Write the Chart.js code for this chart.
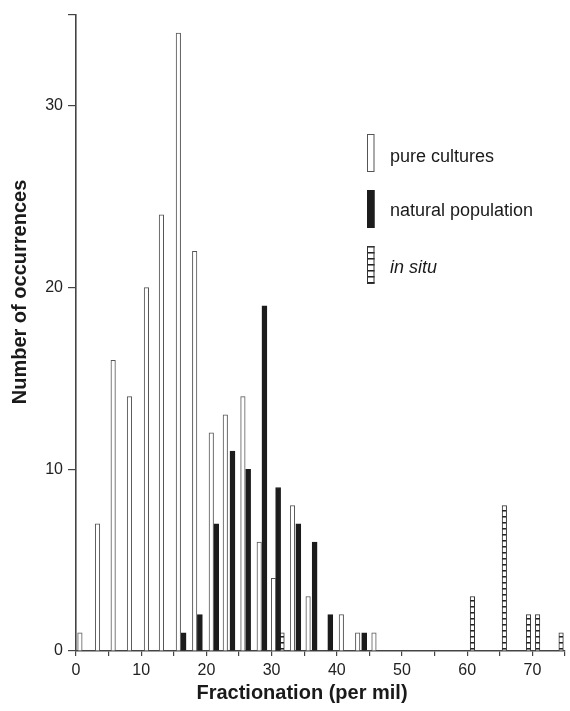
<!DOCTYPE html>
<html>
<head>
<meta charset="utf-8">
<script src="https://cdn.jsdelivr.net/npm/chart.js@4/dist/chart.umd.min.js"></script>
<style>
  html, body { margin: 0; padding: 0; background: #fff; }
  #wrap { width: 570px; height: 711px; position: relative; }
</style>
</head>
<body>
<div id="wrap"><canvas id="c" width="570" height="711"></canvas></div>
<script>
// ---- data ----
const pureX = [0.6, 3.3, 5.7, 8.2, 10.8, 13.1, 15.7, 18.2, 20.75, 22.9, 25.6, 28.1, 30.3, 33.2, 35.6, 40.7, 43.2, 45.7];
const pureY = [1, 7, 16, 14, 20, 24, 34, 22, 12, 13, 14, 6, 4, 8, 3, 2, 1, 1];
const naturalX = [16.5, 19.0, 21.5, 24.0, 26.4, 28.9, 31.0, 34.1, 36.6, 39.0, 44.2];
const naturalY = [1, 2, 7, 11, 10, 19, 9, 7, 6, 2, 1];
const inSituX = [31.6, 60.8, 65.7, 69.4, 70.8, 74.4];
const inSituY = [1, 3, 8, 2, 2, 1];
const seriesNames = ['pure cultures', 'natural population', 'in situ'];
const xTickValues = [0, 5, 10, 15, 20, 25, 30, 35, 40, 45, 50, 55, 60, 65, 70, 75];
const xTickLabels = ['0', '', '10', '', '20', '', '30', '', '40', '', '50', '', '60', '', '70', ''];
const yTickValues = [0, 10, 20, 30, 35];
const yTickLabels = ['0', '10', '20', '30', ''];
const xTitle = 'Fractionation (per mil)';
const yTitle = 'Number of occurrences';

const FONT = "'Liberation Sans', Arial, Helvetica, sans-serif";

// hatch pattern for "in situ"
const pc = document.createElement('canvas');
pc.width = 4; pc.height = 6;
const pctx = pc.getContext('2d');
pctx.fillStyle = '#ffffff'; pctx.fillRect(0, 0, 4, 6);
pctx.fillStyle = '#222222'; pctx.fillRect(0, 0, 4, 1);
pctx.fillStyle = '#888888'; pctx.fillRect(0, 1, 4, 1);
const hatch = document.getElementById('c').getContext('2d').createPattern(pc, 'repeat');

const styles = [
  { bg: '#ffffff', border: '#555555', thick: 4.5 },
  { bg: '#1c1c1c', border: '#1c1c1c', thick: 5 },
  { bg: hatch, border: '#333333', thick: 4.5 }
];

function pts(xs, ys) { return xs.map((x, i) => ({ x: x, y: ys[i] })); }

const titlesPlugin = {
  id: 'titles',
  afterDraw(chart) {
    const ctx = chart.ctx;
    ctx.save();
    ctx.fillStyle = '#1a1a1a';
    ctx.font = 'bold 20px ' + FONT;
    ctx.textAlign = 'center';
    ctx.textBaseline = 'middle';
    ctx.fillText(xTitle, 302, 693);
    ctx.translate(20, 292);
    ctx.rotate(-Math.PI / 2);
    ctx.fillText(yTitle, 0, 0);
    ctx.restore();
  }
};

const legendPlugin = {
  id: 'customLegend',
  afterDraw(chart) {
    const ctx = chart.ctx;
    ctx.save();
    const boxes = [134, 190, 246];
    const texts = [157, 211, 268];
    chart.data.datasets.forEach((ds, i) => {
      const x = 367, w = 7.5, h = 38, y = boxes[i];
      ctx.fillStyle = ds.backgroundColor;
      ctx.fillRect(x, y, w, h);
      ctx.lineWidth = 1;
      ctx.strokeStyle = ds.borderColor;
      ctx.strokeRect(x + 0.5, y + 0.5, w - 1, h - 1);
      ctx.fillStyle = '#1a1a1a';
      ctx.font = (i === 2 ? 'italic ' : '') + '18px ' + FONT;
      ctx.textAlign = 'left';
      ctx.textBaseline = 'middle';
      ctx.fillText(ds.label, 390, texts[i]);
    });
    ctx.restore();
  }
};

const datasets = [pts(pureX, pureY), pts(naturalX, naturalY), pts(inSituX, inSituY)].map((d, i) => ({
  label: seriesNames[i],
  data: d,
  backgroundColor: styles[i].bg,
  borderColor: styles[i].border,
  borderWidth: 1,
  borderSkipped: 'bottom',
  barThickness: styles[i].thick,
  grouped: false
}));

new Chart(document.getElementById('c'), {
  type: 'bar',
  data: { datasets: datasets },
  options: {
    responsive: false,
    devicePixelRatio: 1,
    animation: false,
    layout: { padding: { top: 15, right: 3, left: 0, bottom: 0 } },
    plugins: { legend: { display: false }, tooltip: { enabled: false } },
    scales: {
      x: {
        type: 'linear',
        min: 0, max: 75,
        offset: false,
        afterBuildTicks: s => { s.ticks = xTickValues.map(v => ({ value: v })); },
        afterFit: s => { s.height = 60; },
        grid: { display: true, drawOnChartArea: false, drawTicks: true, tickLength: 5, color: '#444', lineWidth: 1.2, offset: false },
        border: { display: true, color: '#444', width: 1.6 },
        ticks: {
          autoSkip: false, maxRotation: 0, padding: 5, color: '#222',
          font: { family: FONT, size: 16 },
          callback: (v) => { const k = xTickValues.indexOf(v); return k >= 0 ? xTickLabels[k] : ''; }
        }
      },
      y: {
        min: 0, max: 35,
        afterBuildTicks: s => { s.ticks = yTickValues.map(v => ({ value: v })); },
        afterFit: s => { s.width = 76; },
        grid: { display: true, drawOnChartArea: false, drawTicks: true, tickLength: 8, color: '#444', lineWidth: 1.2 },
        border: { display: true, color: '#444', width: 1.6 },
        ticks: {
          autoSkip: false, padding: 5, color: '#222',
          font: { family: FONT, size: 16 },
          callback: (v) => { const k = yTickValues.indexOf(v); return k >= 0 ? yTickLabels[k] : ''; }
        }
      }
    }
  },
  plugins: [titlesPlugin, legendPlugin]
});
</script>
</body>
</html>
